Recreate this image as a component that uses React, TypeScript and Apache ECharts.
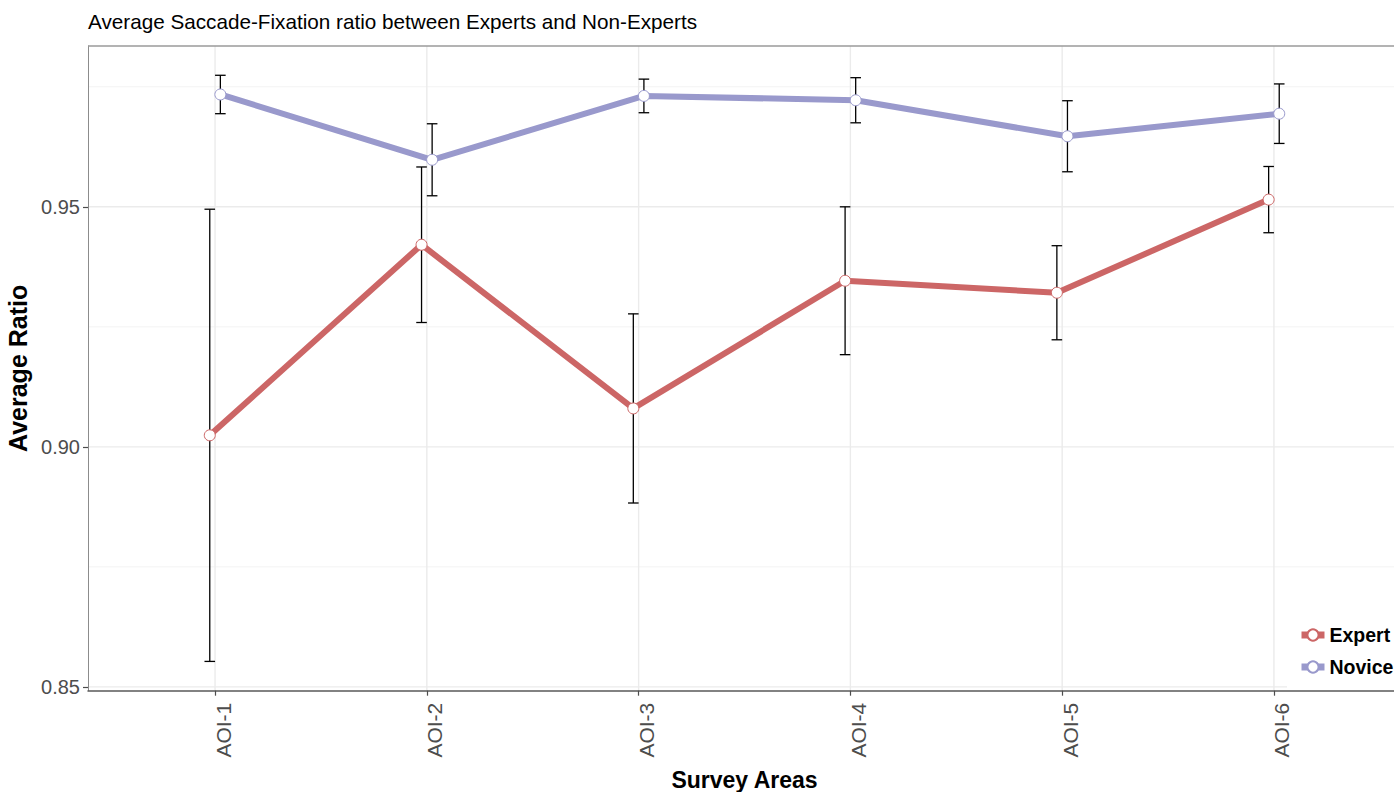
import React, { useEffect, useRef } from "react";
import * as echarts from "echarts";

// Survey areas (x categories)
const categories = ["AOI-1", "AOI-2", "AOI-3", "AOI-4", "AOI-5", "AOI-6"];

// Mean saccade-fixation ratio and standard error per area
const expertMean = [0.9024, 0.9421, 0.908, 0.9346, 0.9321, 0.9515];
const expertSE = [0.0471, 0.0162, 0.0197, 0.0154, 0.0098, 0.0069];
const noviceMean = [0.9734, 0.9598, 0.9731, 0.9722, 0.9647, 0.9694];
const noviceSE = [0.004, 0.0075, 0.0035, 0.0047, 0.0074, 0.0062];

// Y axis range and tick values
const yRange = [0.8492, 0.9835];
const yMajorTicks = [0.85, 0.9, 0.95];
const yMinorTicks = [0.875, 0.925, 0.975];

const EXPERT_COLOR = "#CC6666";
const NOVICE_COLOR = "#9999CC";
const DODGE = 0.025; // half of the dodge width, in category units
const BAR_WIDTH = 0.05; // error bar cap width, in category units
const FONT = "'Liberation Sans', Arial, sans-serif";

const catPositions = categories.map((_, i) => i + 1);

function lineEl(x1: number, y1: number, x2: number, y2: number, stroke: string, lineWidth: number) {
  return { type: "line", shape: { x1, y1, x2, y2 }, style: { stroke, lineWidth } };
}

export default function App() {
  const ref = useRef<HTMLDivElement>(null);

  useEffect(() => {
    if (!ref.current) return;
    const chart = echarts.init(ref.current, undefined, { renderer: "svg" });

    const errorData = (means: number[], ses: number[], shift: number) =>
      means.map((m, i) => [catPositions[i] + shift, m - ses[i], m + ses[i]]);

    const errorRender = (params: any, api: any) => {
      const x = api.value(0);
      const lo = api.coord([x, api.value(1)]);
      const hi = api.coord([x, api.value(2)]);
      const half = api.size([BAR_WIDTH, 0])[0] / 2;
      return {
        type: "group",
        children: [
          lineEl(lo[0], lo[1], hi[0], hi[1], "#000", 1.3),
          lineEl(hi[0] - half, hi[1], hi[0] + half, hi[1], "#000", 1.3),
          lineEl(lo[0] - half, lo[1], lo[0] + half, lo[1], "#000", 1.3),
        ],
      };
    };

    const hGridRender = (major: boolean) => (params: any, api: any) => {
      const cs = params.coordSys;
      const y = api.coord([1, api.value(0)])[1];
      return lineEl(cs.x, y, cs.x + cs.width, y, major ? "#EBEBEB" : "#F3F3F3", major ? 1.4 : 1);
    };

    const vGridRender = (params: any, api: any) => {
      const cs = params.coordSys;
      const x = api.coord([api.value(0), yRange[0]])[0];
      return lineEl(x, cs.y, x, cs.y + cs.height, "#EBEBEB", 1.4);
    };

    const frameRender = (params: any) => {
      const cs = params.coordSys;
      return lineEl(cs.x, cs.y, cs.x + cs.width, cs.y, "#9A9A9A", 1.3);
    };

    const pointSeries = (name: string, color: string, means: number[], shift: number) => ({
      name,
      type: "line",
      z: 4,
      color,
      data: means.map((m, i) => [catPositions[i] + shift, m]),
      symbol: "circle",
      symbolSize: 11,
      showSymbol: true,
      lineStyle: { color, width: 6 },
      itemStyle: { color: "#ffffff", borderColor: color, borderWidth: 1 },
      emphasis: { disabled: true },
    });

    chart.setOption({
      animation: false,
      textStyle: { fontFamily: FONT },
      title: {
        text: "Average Saccade-Fixation ratio between Experts and Non-Experts",
        left: 83,
        top: 6,
        textStyle: { fontSize: 20.7, fontWeight: "normal", color: "#000", fontFamily: FONT },
      },
      grid: {
        left: 88,
        right: -7,
        top: 46,
        bottom: 101.3,
        containLabel: false,
        outerBoundsMode: "none",
      },
      legend: {
        orient: "vertical",
        data: ["Expert", "Novice"],
        left: 1287,
        top: 618,
        padding: [6, 12, 12, 11],
        backgroundColor: "#ffffff",
        itemWidth: 23,
        itemHeight: 14,
        itemGap: 10,
        selectedMode: false,
        lineStyle: { width: 7 },
        textStyle: { fontSize: 19.5, fontWeight: "bold", color: "#000", fontFamily: FONT, lineHeight: 22 },
      },
      xAxis: {
        type: "value",
        min: 0.4,
        max: 6.6,
        name: "Survey Areas",
        nameLocation: "middle",
        nameGap: 78,
        nameTextStyle: { fontSize: 23, fontWeight: "bold", color: "#000", fontFamily: FONT },
        axisLine: { show: true, onZero: false, lineStyle: { color: "#595959", width: 1.5 } },
        axisTick: { show: true, customValues: catPositions, length: 5, lineStyle: { color: "#4D4D4D", width: 1.2 } },
        axisLabel: {
          customValues: catPositions,
          formatter: (v: number) => categories[Math.round(v) - 1] ?? "",
          rotate: 90,
          margin: 12,
          verticalAlign: "top",
          lineHeight: 16,
          fontSize: 21,
          color: "#4D4D4D",
          fontFamily: FONT,
        },
        splitLine: { show: false },
      },
      yAxis: {
        type: "value",
        min: yRange[0],
        max: yRange[1],
        name: "Average Ratio",
        nameLocation: "middle",
        nameGap: 47,
        nameTextStyle: { fontSize: 25, fontWeight: "bold", color: "#000", fontFamily: FONT },
        axisLine: { show: true, onZero: false, lineStyle: { color: "#8C8C8C", width: 1 } },
        axisTick: { show: true, customValues: yMajorTicks, length: 5, lineStyle: { color: "#4D4D4D", width: 1.2 } },
        axisLabel: {
          customValues: yMajorTicks,
          formatter: (v: number) => v.toFixed(2),
          margin: 8,
          fontSize: 20,
          color: "#4D4D4D",
          fontFamily: FONT,
        },
        splitLine: { show: false },
      },
      series: [
        {
          name: "minorGrid",
          type: "custom",
          z: 0,
          silent: true,
          data: yMinorTicks.map((v) => [v]),
          renderItem: hGridRender(false),
        },
        {
          name: "majorGrid",
          type: "custom",
          z: 0,
          silent: true,
          data: yMajorTicks.map((v) => [v]),
          renderItem: hGridRender(true),
        },
        {
          name: "catGrid",
          type: "custom",
          z: 0,
          silent: true,
          data: catPositions.map((v) => [v]),
          renderItem: vGridRender,
        },
        {
          name: "frame",
          type: "custom",
          z: 1,
          silent: true,
          clip: false,
          data: [[0]],
          renderItem: frameRender,
        },
        {
          name: "expertErr",
          type: "custom",
          z: 2,
          silent: true,
          data: errorData(expertMean, expertSE, -DODGE),
          renderItem: errorRender,
        },
        {
          name: "noviceErr",
          type: "custom",
          z: 2,
          silent: true,
          data: errorData(noviceMean, noviceSE, DODGE),
          renderItem: errorRender,
        },
        pointSeries("Expert", EXPERT_COLOR, expertMean, -DODGE),
        pointSeries("Novice", NOVICE_COLOR, noviceMean, DODGE),
      ],
    });

    return () => chart.dispose();
  }, []);

  return (
    <div
      ref={ref}
      style={{ position: "fixed", left: 0, top: 0, width: 1394, height: 792, background: "#ffffff" }}
    />
  );
}
